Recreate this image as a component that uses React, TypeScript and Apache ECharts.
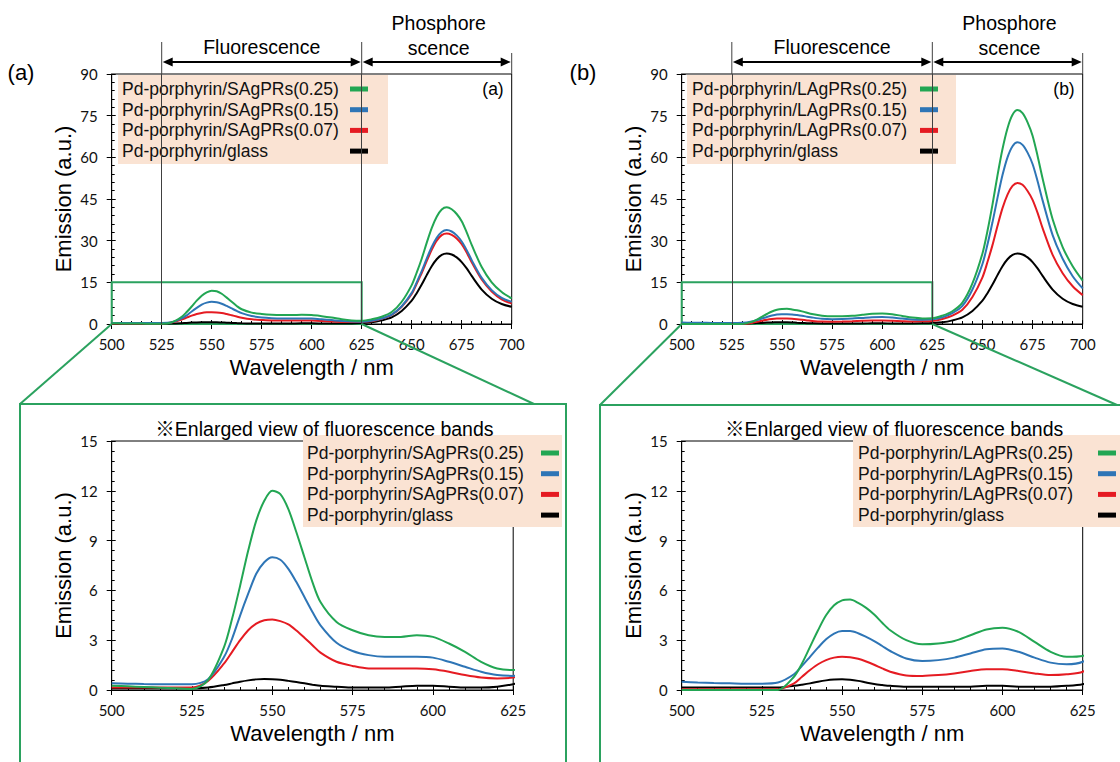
import React, { useEffect, useRef } from "react";
import * as echarts from "echarts";

// ---------------- data ----------------
const wavelengths = [
  500, 505, 510, 515, 520, 525,
  530, 535, 537.5, 540, 542.5, 545, 547.5, 550, 552.5, 555, 557.5, 560, 562.5, 565,
  570, 575, 580, 585, 590, 595, 600, 605, 610, 615, 620, 625,
  630, 635, 640, 645, 650,
  652.5, 655, 657.5, 660, 662.5, 665, 667.5, 670, 672.5, 675, 677.5, 680,
  685, 690, 695, 700,
];

// (a) SAgPRs
const sAg025 = [
  0.25, 0.22, 0.18, 0.14, 0.1, 0.06,
  0.6, 2.6, 4.3, 6.3, 8.4, 10.2, 11.4, 12.0, 11.8, 10.9, 9.5, 8.0, 6.5, 5.3,
  4.1, 3.6, 3.3, 3.2, 3.2, 3.3, 3.2, 2.8, 2.3, 1.7, 1.3, 1.2,
  1.7, 2.6, 4.3, 8.0, 14.0,
  18.5, 23.5, 29.2, 34.5, 38.6, 41.2, 42.0, 41.3, 39.6, 37.0, 33.0, 28.5,
  20.5, 15.0, 11.5, 9.2,
];
const sAg015 = [
  0.4, 0.38, 0.36, 0.35, 0.35, 0.35,
  0.65, 2.0, 3.1, 4.5, 5.8, 7.0, 7.7, 8.0, 7.85, 7.3, 6.5, 5.6, 4.7, 3.9,
  2.85, 2.35, 2.1, 2.0, 2.0, 2.0, 1.95, 1.7, 1.4, 1.1, 0.9, 0.85,
  1.2, 2.0, 3.4, 6.4, 11.2,
  15.0, 19.0, 23.5, 27.7, 31.0, 33.1, 33.8, 33.3, 31.9, 29.7, 26.6, 23.0,
  16.6, 12.2, 9.4, 8.0,
];
const sAg007 = [
  0.15, 0.15, 0.15, 0.15, 0.15, 0.15,
  0.55, 1.6, 2.3, 3.0, 3.6, 4.0, 4.2, 4.25, 4.15, 3.95, 3.58, 3.15, 2.7, 2.25,
  1.7, 1.45, 1.3, 1.3, 1.3, 1.3, 1.25, 1.1, 0.9, 0.75, 0.7, 0.75,
  1.0, 1.9, 3.3, 6.2, 10.8,
  14.5, 18.3, 22.6, 26.7, 30.0, 32.0, 32.6, 32.1, 30.8, 28.7, 25.7, 22.2,
  16.0, 11.7, 8.9, 7.4,
];
const glassA = [
  0.1, 0.1, 0.1, 0.1, 0.1, 0.1,
  0.15, 0.3, 0.4, 0.5, 0.58, 0.64, 0.66, 0.65, 0.62, 0.55, 0.48, 0.4, 0.32, 0.25,
  0.2, 0.15, 0.15, 0.15, 0.2, 0.25, 0.25, 0.2, 0.15, 0.15, 0.2, 0.35,
  0.6, 1.3, 2.4, 4.7, 8.4,
  11.1, 14.2, 17.6, 20.8, 23.3, 24.9, 25.4, 25.0, 24.0, 22.3, 20.0, 17.3,
  12.4, 9.1, 7.2, 6.2,
];

// (b) LAgPRs
const lAg025 = [
  0.0, 0.0, 0.0, 0.0, 0.0, 0.0,
  0.0, 0.8, 1.6, 2.6, 3.6, 4.5, 5.1, 5.4, 5.45, 5.25, 4.95, 4.55, 4.05, 3.6,
  3.0, 2.75, 2.8, 2.95, 3.3, 3.65, 3.75, 3.5, 2.9, 2.3, 2.0, 2.05,
  3.0, 4.6, 7.7, 14.6, 25.4,
  33.5, 43.0, 53.5, 63.0, 70.5, 75.3, 77.0, 75.9, 72.6, 67.8, 60.5, 52.4,
  37.7, 27.7, 20.8, 15.6,
];
const lAg015 = [
  0.5, 0.45, 0.42, 0.4, 0.38, 0.38,
  0.45, 0.95, 1.45, 2.0, 2.55, 3.05, 3.4, 3.55, 3.55, 3.42, 3.2, 2.95, 2.65, 2.35,
  1.9, 1.75, 1.8, 1.95, 2.2, 2.45, 2.5, 2.3, 1.95, 1.65, 1.55, 1.7,
  2.4, 3.9, 6.5, 12.4, 21.6,
  28.6, 36.6, 45.4, 53.6, 60.0, 64.0, 65.4, 64.5, 61.7, 57.6, 51.4, 44.5,
  32.0, 23.5, 17.2, 12.8,
];
const lAg007 = [
  0.05, 0.05, 0.05, 0.05, 0.05, 0.05,
  0.05, 0.4, 0.8, 1.2, 1.55, 1.8, 1.95, 2.0, 1.97, 1.88, 1.72, 1.52, 1.3, 1.1,
  0.88, 0.85, 0.9, 1.0, 1.15, 1.25, 1.25, 1.15, 1.0, 0.9, 0.95, 1.1,
  1.8, 3.0, 5.1, 9.7, 16.8,
  22.3, 28.4, 35.3, 41.7, 46.6, 49.7, 50.8, 50.1, 47.9, 44.7, 40.0, 34.5,
  24.9, 18.3, 13.6, 10.4,
];
const glassB = [
  0.15, 0.15, 0.15, 0.15, 0.15, 0.15,
  0.15, 0.25, 0.32, 0.4, 0.5, 0.58, 0.63, 0.65, 0.62, 0.55, 0.45, 0.36, 0.3, 0.25,
  0.2, 0.2, 0.2, 0.2, 0.2, 0.25, 0.25, 0.2, 0.2, 0.2, 0.25, 0.35,
  0.6, 1.3, 2.4, 4.7, 8.4,
  11.1, 14.2, 17.6, 20.8, 23.3, 24.9, 25.4, 25.0, 24.0, 22.3, 20.0, 17.3,
  12.4, 9.1, 7.2, 6.2,
];

const namesA = ["Pd-porphyrin/SAgPRs(0.25)", "Pd-porphyrin/SAgPRs(0.15)", "Pd-porphyrin/SAgPRs(0.07)", "Pd-porphyrin/glass"];
const namesB = ["Pd-porphyrin/LAgPRs(0.25)", "Pd-porphyrin/LAgPRs(0.15)", "Pd-porphyrin/LAgPRs(0.07)", "Pd-porphyrin/glass"];

const fullRange = { min: 500, max: 700, interval: 25 };
const zoomRange = { min: 500, max: 625, interval: 25 };
const yFull = { min: 0, max: 90, interval: 15 };
const yZoom = { min: 0, max: 15, interval: 3 };
const bandMarks = [525, 625, 700];
const zoomBox = { x0: 500, x1: 625, y0: 0, y1: 15 };

// ---------------- style ----------------
const GREEN = "#22a653";
const BLUE = "#2e75b6";
const RED = "#e51b22";
const BLACK = "#000000";
const FRAME = "#2ba25f";
const PEACH = "#fae3d3";
const TXT = "Liberation Sans, Arial, sans-serif";
const NUM = "Lato, sans-serif";

export default function App() {
  const ref = useRef<HTMLDivElement>(null);

  useEffect(() => {
    const chart = echarts.init(ref.current!, undefined, { renderer: "svg" });

    const grids = [
      { left: 111.7, top: 74, width: 400, height: 250 },
      { left: 681.7, top: 74, width: 401, height: 250 },
      { left: 111.7, top: 441, width: 401.5, height: 249 },
      { left: 681.7, top: 441, width: 401, height: 249 },
    ];

    const xAxes: any[] = [];
    const yAxes: any[] = [];
    grids.forEach((_, g) => {
      const xr = g < 2 ? fullRange : zoomRange;
      const yr = g < 2 ? yFull : yZoom;
      xAxes.push({
        type: "value", gridIndex: g, position: "bottom", ...xr,
        axisLine: { show: true, onZero: false, lineStyle: { color: "#000", width: 1 } },
        axisTick: { show: true, inside: true, length: 4, lineStyle: { color: "#000" } },
        minorTick: { show: true, splitNumber: 5, length: 3, lineStyle: { color: "#000" } },
        axisLabel: { margin: 12, color: "#111", fontFamily: NUM, fontSize: 15, showMinLabel: true, showMaxLabel: true },
        splitLine: { show: false }, minorSplitLine: { show: false },
        name: "Wavelength / nm", nameLocation: "middle", nameGap: 32,
        nameTextStyle: { fontFamily: TXT, fontSize: 22, color: "#000" },
      });
      xAxes.push({
        type: "value", gridIndex: g, position: "bottom", ...xr,
        axisLine: { show: false }, axisLabel: { show: false }, splitLine: { show: false },
        axisTick: { show: true, inside: false, length: 5, lineStyle: { color: "#000" } },
      });
      yAxes.push({
        type: "value", gridIndex: g, position: "left", ...yr,
        axisLine: { show: true, onZero: false, lineStyle: { color: "#000", width: 1 } },
        axisTick: { show: true, inside: true, length: 4, lineStyle: { color: "#000" } },
        minorTick: { show: true, splitNumber: 5, length: 3, lineStyle: { color: "#000" } },
        axisLabel: { margin: 14, color: "#111", fontFamily: NUM, fontSize: 15, showMinLabel: true, showMaxLabel: true },
        splitLine: { show: false }, minorSplitLine: { show: false },
        name: "Emission (a.u.)", nameLocation: "middle", nameGap: 37,
        nameTextStyle: { fontFamily: TXT, fontSize: 22, color: "#000" },
      });
      yAxes.push({
        type: "value", gridIndex: g, position: "left", ...yr,
        axisLine: { show: false }, axisLabel: { show: false }, splitLine: { show: false },
        axisTick: { show: true, inside: false, length: 5, lineStyle: { color: "#000" } },
      });
    });

    const mk = (name: string, vals: number[], color: string, g: number, extra: any = {}) => ({
      type: "line", name, xAxisIndex: 2 * g, yAxisIndex: 2 * g,
      data: wavelengths.map((w, i) => [w, vals[i]]),
      showSymbol: false, symbol: "none", smooth: 0.3, clip: true, silent: true,
      lineStyle: { color, width: 2 }, itemStyle: { color },
      ...extra,
    });

    const topExtra = {
      markLine: {
        silent: true, symbol: ["none", "none"], label: { show: false },
        lineStyle: { color: "#404040", width: 1, type: "solid" },
        data: [{ xAxis: bandMarks[0] }, { xAxis: bandMarks[1] }],
      },
      markArea: {
        silent: true,
        itemStyle: { color: "rgba(0,0,0,0)", borderColor: FRAME, borderWidth: 2 },
        data: [[{ xAxis: zoomBox.x0, yAxis: zoomBox.y0 }, { xAxis: zoomBox.x1, yAxis: zoomBox.y1 }]],
      },
    };

    const series: any[] = [];
    [0, 1, 2, 3].forEach((g) => {
      const isA = g % 2 === 0;
      const nm = isA ? namesA : namesB;
      const d = isA ? [sAg025, sAg015, sAg007, glassA] : [lAg025, lAg015, lAg007, glassB];
      series.push(mk(nm[3], d[3], BLACK, g, g < 2 ? topExtra : {}));
      series.push(mk(nm[2], d[2], RED, g));
      series.push(mk(nm[1], d[1], BLUE, g));
      series.push(mk(nm[0], d[0], GREEN, g));
    });

    const legendBase = (names: string[], left: number, top: number, w: number, padding: number[]) => ({
      data: names, left, top, orient: "vertical", align: "right", icon: "rect",
      itemWidth: 18, itemHeight: 5, itemGap: 2.7, selectedMode: false,
      backgroundColor: PEACH, padding, borderWidth: 0,
      formatter: (n: string) => `{t|${n}}`,
      textStyle: {
        fontFamily: TXT, fontSize: 17.5, color: "#111",
        rich: { t: { width: w, align: "left", fontFamily: TXT, fontSize: 17.5, lineHeight: 21, color: "#111" } },
      },
    });

    chart.setOption({
      animation: false,
      backgroundColor: "#fff",
      grid: grids.map((g) => ({ ...g, show: true, borderColor: "#000", borderWidth: 1, backgroundColor: "transparent" })),
      xAxis: xAxes,
      yAxis: yAxes,
      legend: [
        legendBase(namesA, 118, 75, 223, [5, 20, 4, 4]),
        legendBase(namesB, 687, 75, 223, [5, 18, 4, 5]),
        legendBase(namesA, 303, 435, 229, [9, 3, 3, 4]),
        legendBase(namesB, 853, 435, 235, [9, 12, 3, 5]),
      ],
      series,
    });

    // ---- annotations positioned through the axes ----
    const px = (g: number, x: number, y: number) =>
      chart.convertToPixel({ seriesIndex: 4 * g } as any, [x, y]) as number[];

    const frames = [
      { left: 20, top: 404, right: 566, joinX: 534 },
      { left: 600, top: 405, right: 1130, joinX: 1117 },
    ];
    const outerLabels = [
      { t: "(a)", x: 21, y: 72 },
      { t: "(b)", x: 583, y: 72 },
    ];
    const innerLabels = ["(a)", "(b)"];

    const els: any[] = [];
    const txt = (text: string, x: number, y: number, size: number, align = "center") => ({
      type: "text", x, y, silent: true, z: 10,
      style: { text, fontFamily: TXT + ", Noto Sans CJK JP", fontSize: size, fill: "#000", align, textAlign: align, verticalAlign: "middle", textVerticalAlign: "middle" },
    });
    const ln = (x1: number, y1: number, x2: number, y2: number, stroke: string, w: number) => ({
      type: "line", silent: true, z: 10, shape: { x1, y1, x2, y2 }, style: { stroke, lineWidth: w },
    });
    const head = (x: number, y: number, dir: number) => ({
      type: "polygon", silent: true, z: 10,
      shape: { points: [[x, y], [x + dir * 10, y - 4.5], [x + dir * 10, y + 4.5]] },
      style: { fill: "#000" },
    });

    [0, 1].forEach((g) => {
      const [x525] = px(g, bandMarks[0], 0);
      const [x625] = px(g, bandMarks[1], 0);
      const [x700, yTop] = px(g, bandMarks[2], yFull.max);
      const [x500, y0] = px(g, zoomBox.x0, zoomBox.y0);
      const [x625b] = px(g, zoomBox.x1, zoomBox.y0);
      const ay = 62;
      els.push(ln(x525, 42, x525, yTop, "#404040", 1));
      els.push(ln(x625, 42, x625, yTop, "#404040", 1));
      els.push(ln(x700, 53, x700, yTop, "#404040", 1));
      els.push(ln(x525 + 4, ay, x625 - 4, ay, "#000", 2));
      els.push(ln(x625 + 4, ay, x700 - 4, ay, "#000", 2));
      els.push(head(x525 + 1, ay, 1), head(x625 - 1, ay, -1), head(x625 + 1, ay, 1), head(x700 - 1, ay, -1));
      els.push(txt("Fluorescence", (x525 + x625) / 2, 47, 19.5));
      els.push(txt("Phosphore", (x625 + x700) / 2 + 2, 23, 19.5));
      els.push(txt("scence", (x625 + x700) / 2 + 2, 48, 19.5));
      els.push(txt(innerLabels[g], x700 - 8, 89, 17.5, "right"));
      els.push(txt(outerLabels[g].t, outerLabels[g].x, outerLabels[g].y, 22));
      const f = frames[g];
      els.push({
        type: "rect", silent: true, z: 1,
        shape: { x: f.left, y: f.top, width: f.right - f.left, height: 420 },
        style: { fill: "none", stroke: FRAME, lineWidth: 2 },
      });
      els.push(ln(x500, y0, f.left, f.top, FRAME, 2));
      els.push(ln(x625b, y0, f.joinX, f.top, FRAME, 2));
    });

    [2, 3].forEach((g) => {
      const [xa, yt] = px(g, zoomRange.min, yZoom.max);
      const [xb] = px(g, zoomRange.max, yZoom.max);
      els.push(txt("※Enlarged view of fluorescence bands", (xa + xb) / 2 + 12, yt - 12, 19.5));
    });

    chart.setOption({ graphic: els });

    return () => chart.dispose();
  }, []);

  return (
    <div
      ref={ref}
      style={{ position: "absolute", left: 0, top: 0, width: 1120, height: 762, background: "#fff" }}
    />
  );
}
